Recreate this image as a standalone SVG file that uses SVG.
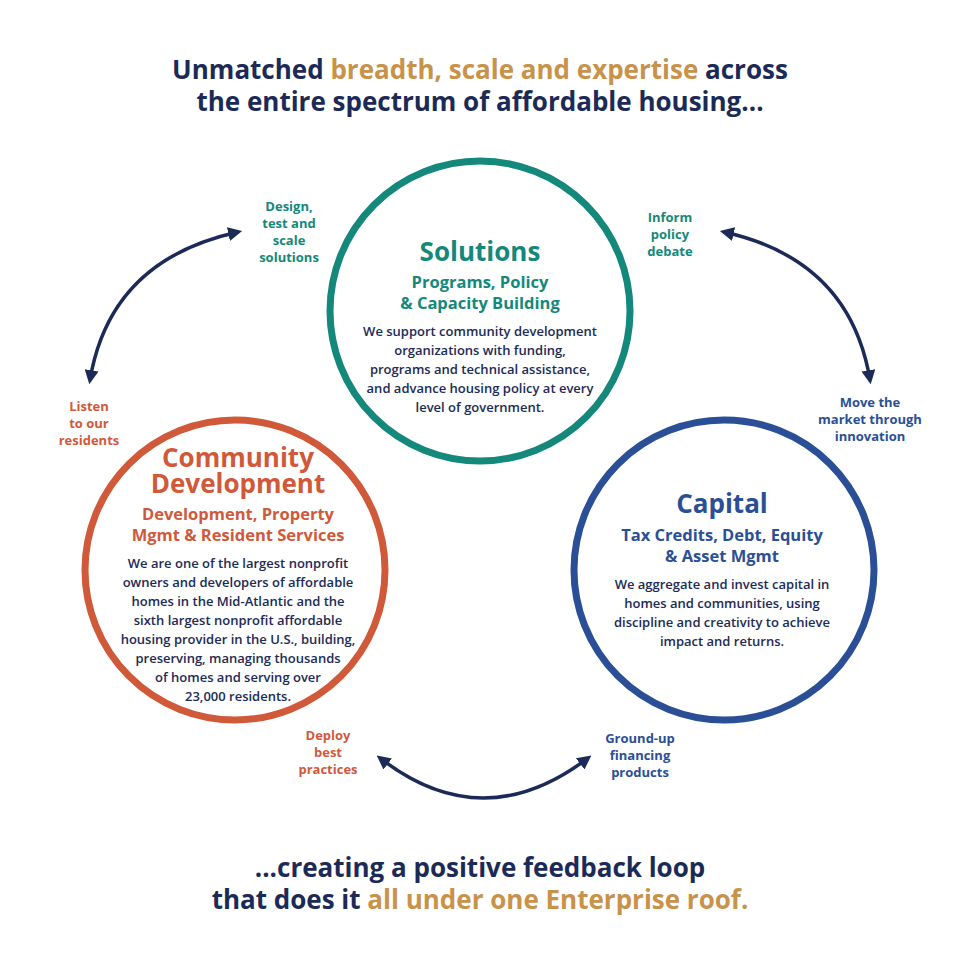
<svg xmlns="http://www.w3.org/2000/svg" width="960" height="957" viewBox="0 0 960 957">
<style>
text{font-family:"Open Sans","Liberation Sans",sans-serif;font-weight:700;text-anchor:middle}
.t{font-size:26px;fill:#1b2a56}
.g{fill:#c8924a}
.lab{font-size:13px}
.body{font-size:13px;font-weight:600;fill:#1b2a56}
.teal{fill:#14887a}.or{fill:#d0593a}.bl{fill:#2a4f96}
.conn{fill:none;stroke:#1b2a56;stroke-width:3.5;marker-start:url(#a);marker-end:url(#a)}
</style>
<defs><marker id="a" viewBox="0 0 10 10" refX="7" refY="5" markerWidth="4" markerHeight="4" orient="auto-start-reverse"><path d="M0,0L10,5L0,10z" fill="#1b2a56"/></marker></defs>
<rect width="960" height="957" fill="#fff"/>
<text class="t" x="480" y="79">Unmatched <tspan class="g">breadth, scale and expertise</tspan> across</text>
<text class="t" x="480" y="111">the entire spectrum of affordable housing...</text>
<text class="t" x="480" y="877">...creating a positive feedback loop</text>
<text class="t" x="480" y="909">that does it <tspan class="g">all under one Enterprise roof.</tspan></text>
<g id="connectors">
<path class="conn" d="M238,232 Q110,260 90,380"/>
<path class="conn" d="M724,232 Q850,260 870,380"/>
<path class="conn" d="M380,758 Q483,838 588,758"/>
</g>
<g id="solutions">
<circle cx="480" cy="311" r="150" fill="#fff" stroke="#14887a" stroke-width="7"/>
<text x="480" y="261" font-size="26" class="teal">Solutions</text>
<text x="480" y="288" font-size="16.5" class="teal">Programs, Policy</text>
<text x="480" y="309" font-size="16.5" class="teal">&amp; Capacity Building</text>
<text class="body" x="480" y="336">We support community development</text>
<text class="body" x="480" y="355">organizations with funding,</text>
<text class="body" x="480" y="374">programs and technical assistance,</text>
<text class="body" x="480" y="393">and advance housing policy at every</text>
<text class="body" x="480" y="412">level of government.</text>
</g>
<g id="community">
<circle cx="235" cy="570" r="150" fill="#fff" stroke="#d0593a" stroke-width="7"/>
<text x="238" y="467" font-size="26" class="or">Community</text>
<text x="238" y="493" font-size="26" class="or">Development</text>
<text x="238" y="520" font-size="16.5" class="or">Development, Property</text>
<text x="238" y="541" font-size="16.5" class="or">Mgmt &amp; Resident Services</text>
<text class="body" x="238" y="568">We are one of the largest nonprofit</text>
<text class="body" x="238" y="587">owners and developers of affordable</text>
<text class="body" x="238" y="606">homes in the Mid-Atlantic and the</text>
<text class="body" x="238" y="625">sixth largest nonprofit affordable</text>
<text class="body" x="238" y="644">housing provider in the U.S., building,</text>
<text class="body" x="238" y="663">preserving, managing thousands</text>
<text class="body" x="238" y="682">of homes and serving over</text>
<text class="body" x="238" y="701">23,000 residents.</text>
</g>
<g id="capital">
<circle cx="724" cy="570" r="150" fill="#fff" stroke="#2a4f96" stroke-width="7"/>
<text x="722" y="513" font-size="26" class="bl">Capital</text>
<text x="722" y="541" font-size="16.5" class="bl">Tax Credits, Debt, Equity</text>
<text x="722" y="562" font-size="16.5" class="bl">&amp; Asset Mgmt</text>
<text class="body" x="722" y="589">We aggregate and invest capital in</text>
<text class="body" x="722" y="608">homes and communities, using</text>
<text class="body" x="722" y="627">discipline and creativity to achieve</text>
<text class="body" x="722" y="646">impact and returns.</text>
</g>
<g id="labels">
<text class="lab teal" x="289" y="211">Design,</text>
<text class="lab teal" x="289" y="228">test and</text>
<text class="lab teal" x="289" y="245">scale</text>
<text class="lab teal" x="289" y="262">solutions</text>
<text class="lab teal" x="670" y="222">Inform</text>
<text class="lab teal" x="670" y="239">policy</text>
<text class="lab teal" x="670" y="256">debate</text>
<text class="lab bl" x="870" y="407">Move the</text>
<text class="lab bl" x="870" y="424">market through</text>
<text class="lab bl" x="870" y="441">innovation</text>
<text class="lab or" x="89" y="411">Listen</text>
<text class="lab or" x="89" y="428">to our</text>
<text class="lab or" x="89" y="445">residents</text>
<text class="lab or" x="328" y="740">Deploy</text>
<text class="lab or" x="328" y="757">best</text>
<text class="lab or" x="328" y="774">practices</text>
<text class="lab bl" x="640" y="743">Ground-up</text>
<text class="lab bl" x="640" y="760">financing</text>
<text class="lab bl" x="640" y="777">products</text>
</g>
</svg>
